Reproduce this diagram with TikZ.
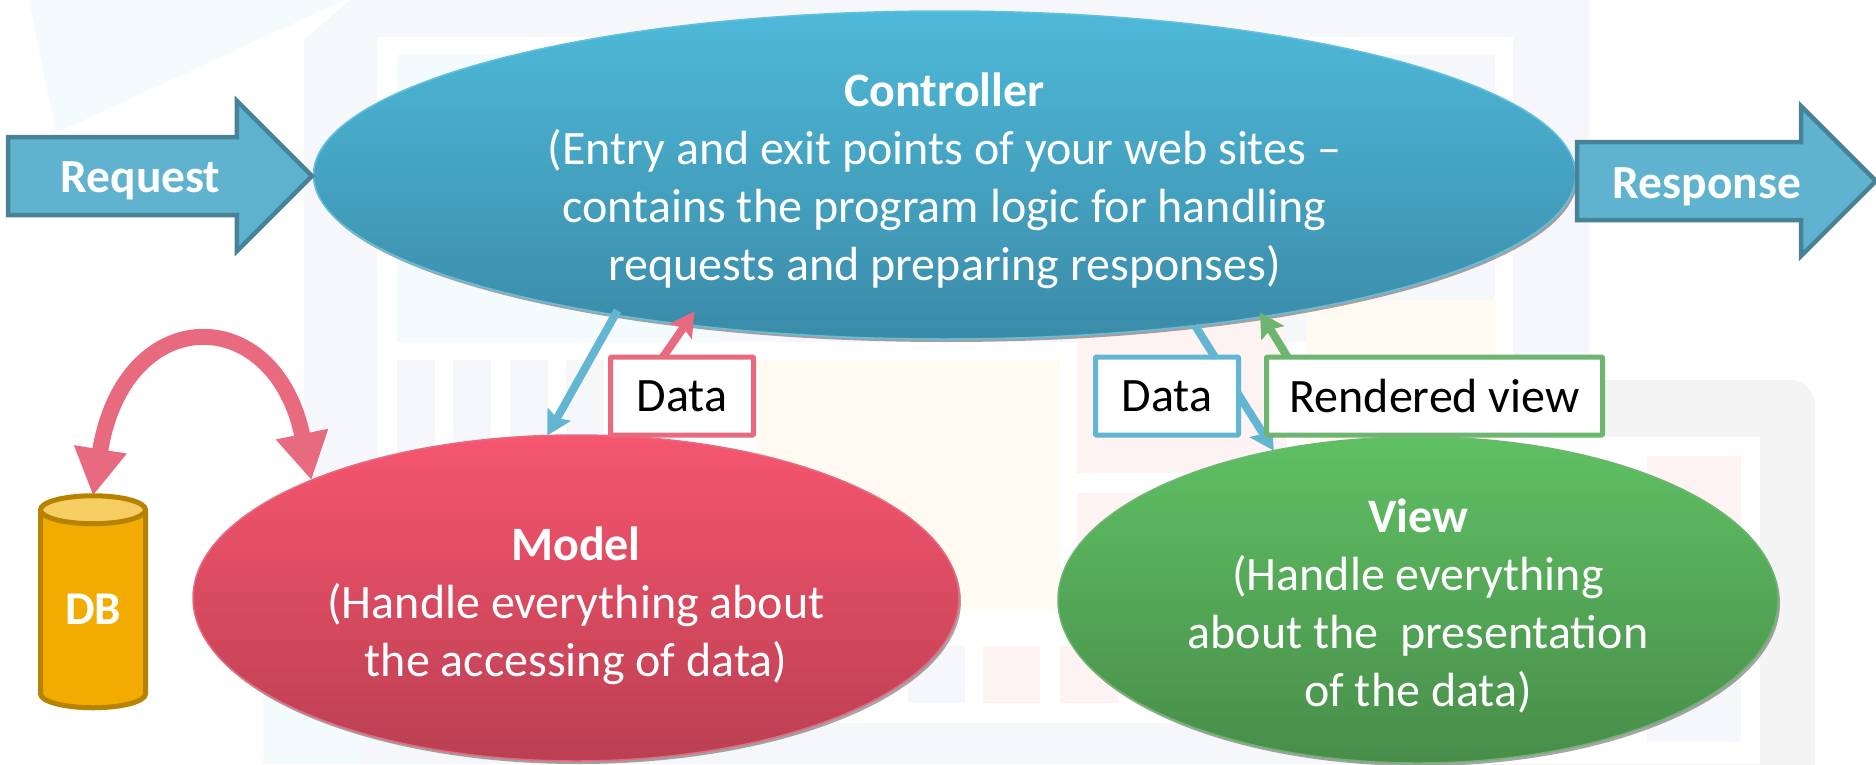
\documentclass[tikz,border=0pt]{standalone}
\usepackage{fontspec}
\setmainfont{Carlito}
\usetikzlibrary{shapes.geometric,shapes.arrows,shadows,arrows.meta,backgrounds}
\definecolor{ctrltop}{HTML}{4FB9D9}
\definecolor{ctrlbot}{HTML}{3A8BA8}
\definecolor{modtop}{HTML}{F6566F}
\definecolor{modbot}{HTML}{BB3F52}
\definecolor{viewtop}{HTML}{5FC063}
\definecolor{viewbot}{HTML}{488D4A}
\definecolor{pinkline}{HTML}{E76A7F}
\definecolor{blueline}{HTML}{62B6D1}
\definecolor{greenline}{HTML}{6DB570}
\definecolor{arrfill}{HTML}{60B3CE}
\definecolor{arrline}{HTML}{478296}
\definecolor{dbfill}{HTML}{F2AB00}
\definecolor{dbline}{HTML}{B68200}
\definecolor{dbtop}{HTML}{F5CD62}
\definecolor{bggrey}{HTML}{F6F7FA}
\definecolor{bgteal}{HTML}{F4FBFD}
\definecolor{bgyellow}{HTML}{FFFBF3}
\definecolor{bgpink}{HTML}{FDF3F3}
\definecolor{bgdev}{HTML}{F4F4F4}
\pgfdeclarelayer{backlayer}
\pgfdeclarelayer{midlayer}
\pgfsetlayers{backlayer,midlayer,main}
\newcommand{\firstline}[1]{\rule{0pt}{#1pt}}
\tikzset{
  oval/.style={ellipse,inner sep=0pt,outer sep=0pt,text=white,align=center,line width=1.5pt,
    font=\fontsize{48}{58}\selectfont,drop shadow={shadow xshift=2pt,shadow yshift=-3pt,opacity=.35,fill=black}},
  labelbox/.style={rectangle,fill=white,line width=5pt,rounded corners=1pt,inner sep=0pt,outer sep=0pt,
    minimum height=78pt,text=black,font=\fontsize{48}{54}\selectfont},
  flowarrow/.style={single arrow,draw=arrline,fill=arrfill,line width=4.5pt,inner sep=0pt,outer sep=0pt,
    minimum width=146pt,single arrow head extend=36pt,single arrow tip angle=90,
    anchor=tip,text=white,font=\bfseries\fontsize{47.5}{57}\selectfont},
  thinarrow/.style={line width=8pt,-{Stealth[length=24pt,width=26pt,inset=4pt]}},
  bigarc/.style={line width=16pt,draw=pinkline,{Triangle[length=47pt,width=50pt]}-{Triangle[length=47pt,width=50pt]}},
}
\begin{document}
\begin{tikzpicture}[x=1pt,y=-1pt]
\useasboundingbox (0,0) rectangle (1876,764);
\begin{pgfonlayer}{backlayer}
  \fill[white] (0,0) rectangle (1876,764);
  % faint background artwork
  \fill[bgteal] (29,0) -- (56,133) -- (344,0) -- cycle;
  \fill[bgdev,rounded corners=25pt] (1400,380) -- (1815,380) -- (1815,790) -- (1400,790) -- cycle;
  \fill[white] (1400,437) rectangle (1760,764);
  \fill[bgpink] (1647,456) rectangle (1741,610);
  \fill[bggrey] (1647,610) rectangle (1741,742);
  \fill[bggrey] (304,40) -- (350,0) -- (1589,0) -- (1589,380) -- (1400,380) -- (1400,437) -- (1400,723) -- (1400,764) -- (304,764) -- cycle;
  \fill[white] (377,37) rectangle (1513,723);
  \fill[bgteal] (397,55) rectangle (720,342);
  \fill[bggrey] (720,55) rectangle (1495,342);
  \fill[bggrey] (397,360) rectangle (435,640);
  \fill[bggrey] (453,360) rectangle (491,640);
  \fill[bggrey] (510,360) rectangle (548,640);
  \fill[bggrey] (566,360) rectangle (604,640);
  \fill[bgyellow] (757,360) rectangle (1060,610);
  \fill[bgpink] (1077,300) rectangle (1287,473);
  \fill[bgyellow] (1306,300) rectangle (1496,473);
  \fill[bgpink] (1077,493) rectangle (1300,610);
  \fill[bggrey] (908,646) rectangle (965,703);
  \fill[bgpink] (983,646) rectangle (1040,703);
  \fill[bgpink] (1060,646) rectangle (1118,703);
  \fill[white!97!bgyellow] (228,680) rectangle (263,764);
  \fill[bgteal] (263,680) rectangle (360,764);
  % main ovals
  \node[oval,draw=ctrltop!90!white,top color=ctrltop,bottom color=ctrlbot,minimum width=1262pt,minimum height=328pt]
    (ctrl) at (944.5,175) {\firstline{45}\textbf{Controller}\\(Entry and exit points of your web sites --\\contains the program logic for handling\\requests and preparing responses)};
  \node[oval,draw=pinkline,top color=modtop,bottom color=modbot,minimum width=766pt,minimum height=326pt]
    (model) at (576,598) {\firstline{49}\textbf{Model}\\(Handle everything about\\the accessing of data)};
  \node[oval,draw=greenline,top color=viewtop,bottom color=viewbot,minimum width=720pt,minimum height=326pt]
    (view) at (1418,600) {\firstline{45}\textbf{View}\\(Handle everything\\about the\ \ presentation\\of the data)};
\end{pgfonlayer}
% flow arrows
\node[flowarrow,minimum height=304pt] (req) at (312,176) {\raisebox{-16pt}[36.75pt][36.75pt]{Request}\hspace{50pt}};
\node[flowarrow,minimum height=299pt] (resp) at (1876,181) {\raisebox{-17pt}[36.75pt][36.75pt]{Response}\hspace{29pt}};
% database
\node[cylinder,shape border rotate=90,aspect=.5,draw=dbline,line width=5pt,inner sep=0pt,outer sep=0pt,
  cylinder uses custom fill,cylinder body fill=dbfill,cylinder end fill=dbtop,
  minimum width=105pt,minimum height=212pt,text=white,font=\bfseries\fontsize{47}{57}\selectfont]
  (db) at (93,610) {\raisebox{-14pt}[0pt][0pt]{DB}};
% label boxes
\node[labelbox,draw=pinkline,minimum width=143pt] (dataM) at (682,396) {Data};
\node[labelbox,draw=blueline,minimum width=143pt] (dataV) at (1167,396) {Data};
\node[labelbox,draw=greenline,minimum width=336pt] (rend) at (1434.5,396) {Rendered view};
% connectors
\begin{pgfonlayer}{midlayer}
  \draw[thinarrow,blueline,shorten <=-5pt] (ctrl.203) -- (model.100.1);
  \draw[thinarrow,pinkline,shorten >=-16pt] ([xshift=-19pt]dataM.north) -- (ctrl.210);
  \draw[thinarrow,blueline] (ctrl.-31.5) -- (view.134.2);
  \draw[thinarrow,greenline,shorten >=-5pt] ([xshift=-147pt]rend.north) -- (ctrl.-24.8);
  \draw[bigarc] (db.north) .. controls (124,301) and (275,301) .. (model.156.9);
\end{pgfonlayer}
\end{tikzpicture}
\end{document}
